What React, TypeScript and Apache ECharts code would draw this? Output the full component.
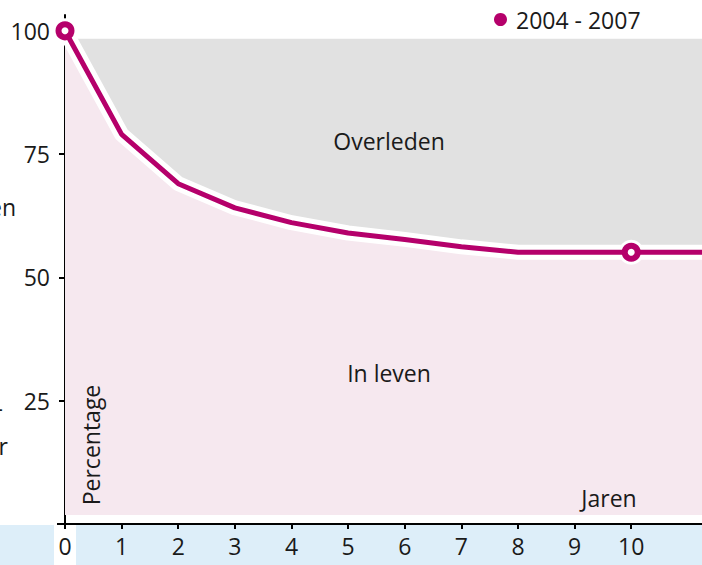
import React, { useEffect, useRef } from "react";
import * as echarts from "echarts";

// ---- data ----
const years = [0, 1, 2, 3, 4, 5, 6, 7, 8, 9, 10, 11, 12];
const survival = [100, 79, 69, 64.1, 61.1, 59, 57.7, 56.2, 55.1, 55.1, 55.1, 55.1, 55.1];
const markerYears = [0, 10];
const seriesName = "2004 - 2007";
const xTickValues = [0, 1, 2, 3, 4, 5, 6, 7, 8, 9, 10];
const yTickValues = [25, 50, 75, 100];
const deadLabel = "Overleden";
const aliveLabel = "In leven";
const xTitle = "Jaren";
const yTitle = "Percentage";

const FONT = "'Open Sans', 'Noto Sans', sans-serif";
const MAGENTA = "#b5006b";
const TEXT = "#1a1a1a";
const X_MAX = 11.25;
const Y_MAX = 103.2;

export default function App() {
  const ref = useRef<HTMLDivElement>(null);
  useEffect(() => {
    const chart = echarts.init(ref.current!, null, { renderer: "svg" });
    const pts = years.map((x, i) => [x, survival[i]]);
    const markerPts = markerYears.map((y) => [y, survival[years.indexOf(y)]]);
    const txt = (text: string, x: number, y: number, extra: any = {}) => ({
      type: "text",
      x,
      y,
      z: 100,
      ...extra,
      style: {
        text,
        fill: TEXT,
        font: `23px ${FONT}`,
        align: "center",
        verticalAlign: "middle",
        ...(extra.style || {}),
      },
    });
    chart.setOption({
      animation: false,
      grid: { left: 65, right: 0, top: 15, bottom: 41 },
      legend: {
        data: [seriesName],
        left: 494,
        top: 8,
        padding: 0,
        icon: "circle",
        itemWidth: 13,
        itemHeight: 13,
        selectedMode: false,
        itemStyle: { opacity: 1 },
        textStyle: { fontSize: 23, fontFamily: FONT, color: TEXT, padding: [0, 0, 0, 4] },
      },
      xAxis: {
        type: "value",
        min: 0,
        max: X_MAX,
        axisLine: { lineStyle: { color: "#000", width: 2 } },
        axisTick: { customValues: xTickValues, length: 5, lineStyle: { color: "#000", width: 2 } },
        axisLabel: { customValues: xTickValues, margin: 10, fontSize: 23, color: TEXT, fontFamily: FONT },
        splitLine: { show: false },
      },
      yAxis: {
        type: "value",
        min: 0,
        max: Y_MAX,
        axisLine: { show: true, lineStyle: { color: "#000", width: 2 } },
        axisTick: { show: true, customValues: yTickValues, length: 6, lineStyle: { color: "#000", width: 2 } },
        axisLabel: { customValues: yTickValues, margin: 15, fontSize: 23, color: TEXT, fontFamily: FONT },
        splitLine: { show: false },
      },
      graphic: [
        { type: "rect", z: -5, shape: { x: 0, y: 525, width: 54, height: 40 }, style: { fill: "#ddeef9" } },
        { type: "rect", z: -5, shape: { x: 76, y: 525, width: 626, height: 40 }, style: { fill: "#ddeef9" } },
        { type: "line", z: 10, shape: { x1: 57, y1: 524, x2: 66, y2: 524 }, style: { stroke: "#000", lineWidth: 2 } },
        txt(deadLabel, 389, 141),
        txt(aliveLabel, 389, 373),
        txt(xTitle, 609, 498),
        txt(yTitle, 91, 445, { rotation: Math.PI / 2 }),
        txt("en", 16, 207, { style: { align: "right" } }),
        txt("r", 8, 446, { style: { align: "right" } }),
        txt("-", 3, 408, { style: { align: "right" } }),
      ],
      series: [
        {
          name: "bg",
          type: "line",
          data: pts,
          symbol: "none",
          silent: true,
          z: 1,
          lineStyle: { opacity: 0 },
          markArea: {
            silent: true,
            itemStyle: { color: "#e1e1e1", opacity: 1 },
            data: [[{ coord: [0.14, 98.4] }, { coord: [X_MAX, 1.8] }]],
          },
        },
        {
          name: "area",
          type: "line",
          data: pts,
          symbol: "none",
          silent: true,
          z: 2,
          lineStyle: { width: 0, opacity: 0 },
          areaStyle: { color: "#f6e8ef", opacity: 1, origin: 1.8 },
        },
        {
          name: "cover",
          type: "line",
          data: pts,
          symbol: "none",
          silent: true,
          z: 3,
          lineStyle: { opacity: 0 },
          markArea: {
            silent: true,
            itemStyle: { color: "#ffffff", opacity: 1 },
            data: [[{ coord: [0.025, 0.5] }, { coord: [0.14, 100] }]],
          },
        },
        {
          name: "halo",
          type: "line",
          data: pts,
          symbol: "none",
          silent: true,
          z: 4,
          lineStyle: { color: "#ffffff", width: 15, join: "round" },
        },
        {
          name: "haloMarkers",
          type: "scatter",
          data: markerPts,
          symbolSize: 25,
          silent: true,
          z: 4,
          itemStyle: { color: "#ffffff", opacity: 1 },
        },
        {
          name: seriesName,
          type: "line",
          data: pts,
          symbol: "none",
          z: 5,
          itemStyle: { color: MAGENTA },
          lineStyle: { color: MAGENTA, width: 5, join: "round" },
        },
        {
          name: "markers",
          type: "scatter",
          data: markerPts,
          symbolSize: 13,
          z: 6,
          itemStyle: { color: "#ffffff", borderColor: MAGENTA, borderWidth: 6, opacity: 1 },
        },
      ],
    });
    return () => chart.dispose();
  }, []);
  return (
    <div
      ref={ref}
      style={{ position: "absolute", left: 0, top: 0, width: 702, height: 565 }}
    />
  );
}
